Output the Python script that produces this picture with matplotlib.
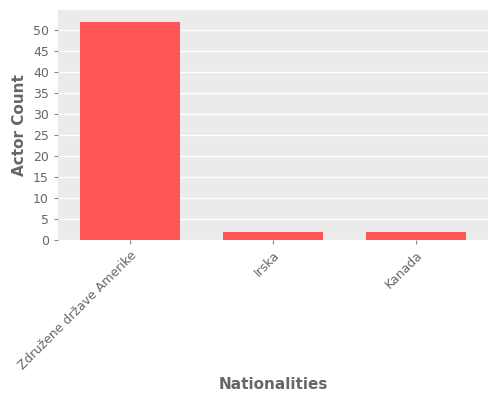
import matplotlib
matplotlib.use("Agg")
import matplotlib.pyplot as plt

categories = ["Združene države Amerike", "Irska", "Kanada"]
counts = [52, 2, 2]

fig = plt.figure(figsize=(5, 4), dpi=100)
ax = fig.add_axes([0.116, 0.4, 0.86, 0.575])
ax.set_facecolor("#EBEBEB")
ax.bar(range(len(categories)), counts, width=0.7, color="#FF5555", zorder=3)
ax.set_xlim(-0.5, 2.5)
ax.set_ylim(0, 54.8)
ax.set_yticks(range(0, 55, 5))
ax.grid(axis="y", color="white", linewidth=1, zorder=0)
ax.set_xticks(range(len(categories)))
ax.set_xticklabels(categories, rotation=45, ha="right", rotation_mode="anchor")
for s in ax.spines.values():
    s.set_visible(False)
ax.tick_params(colors="#888888", labelcolor="#666666", labelsize=9, length=3)
ax.set_ylabel("Actor Count", color="#666666", fontsize=11, fontweight="bold")
ax.set_xlabel("Nationalities", color="#666666", fontsize=11, fontweight="bold", va="center")
ax.xaxis.set_label_coords(0.5, -0.63)
fig.savefig("out.png", dpi=100)
